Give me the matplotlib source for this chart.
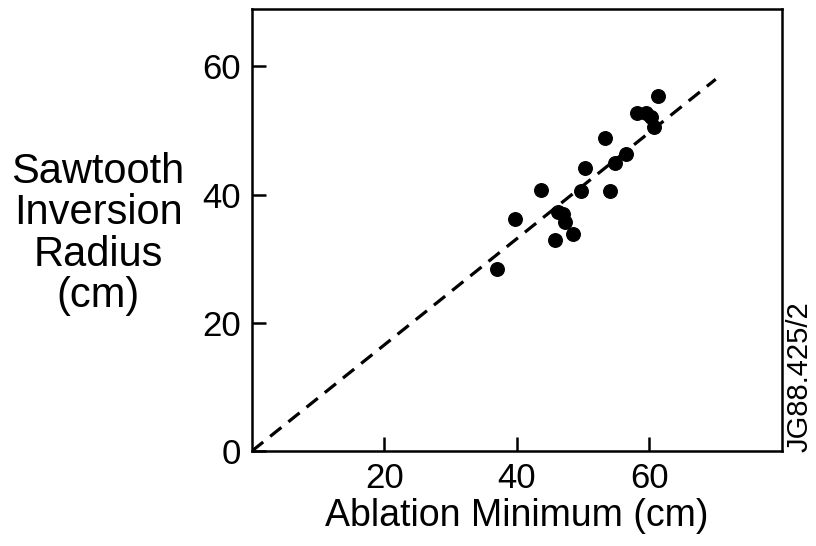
import matplotlib
matplotlib.use("Agg")
import matplotlib.pyplot as plt

plt.rcParams['font.family'] = ['Liberation Sans', 'DejaVu Sans']

# Measured points (cm)
ablation_min = [61.3, 58.1, 59.5, 60.3, 60.7, 53.3, 56.4, 54.8, 50.3, 43.6,
                49.6, 54.1, 39.7, 46.2, 46.9, 47.3, 48.5, 45.7, 37.0]
inversion_radius = [55.4, 52.7, 52.8, 52.1, 50.5, 48.8, 46.3, 45.0, 44.1, 40.7,
                    40.5, 40.6, 36.2, 37.3, 36.9, 35.7, 33.9, 32.9, 28.4]

# Dashed reference line
fit_x = [0, 70]
fit_y = [0, 58]

xticks = [20, 40, 60]
yticks = [0, 20, 40, 60]


def main():
    fig = plt.figure(figsize=(8.16, 5.46), dpi=100)
    ax = fig.add_axes([0.3088, 0.174, 0.6495, 0.81])

    ax.plot(fit_x, fit_y, color='black', linewidth=2.3, linestyle=(0, (4.5, 2.8)))
    ax.scatter(ablation_min, inversion_radius, s=95, color='black', zorder=3)

    ax.set_xlim(0, 80)
    ax.set_ylim(0, 69)
    ax.set_xticks(xticks)
    ax.set_yticks(yticks)
    ax.tick_params(direction='in', length=10, width=1.8, labelsize=25, pad=8)
    for spine in ax.spines.values():
        spine.set_linewidth(1.8)

    ax.set_xlabel('Ablation Minimum (cm)', fontsize=27, labelpad=2)
    fig.text(98 / 816, 1 - 234 / 546, 'Sawtooth\nInversion\nRadius\n(cm)',
             ha='center', va='center', fontsize=30, linespacing=1.04)
    fig.text(800 / 816, 1 - 377 / 546, 'JG88.425/2', rotation=90,
             ha='center', va='center', fontsize=21)

    fig.savefig('out.png', dpi=100)


if __name__ == "__main__":
    main()
